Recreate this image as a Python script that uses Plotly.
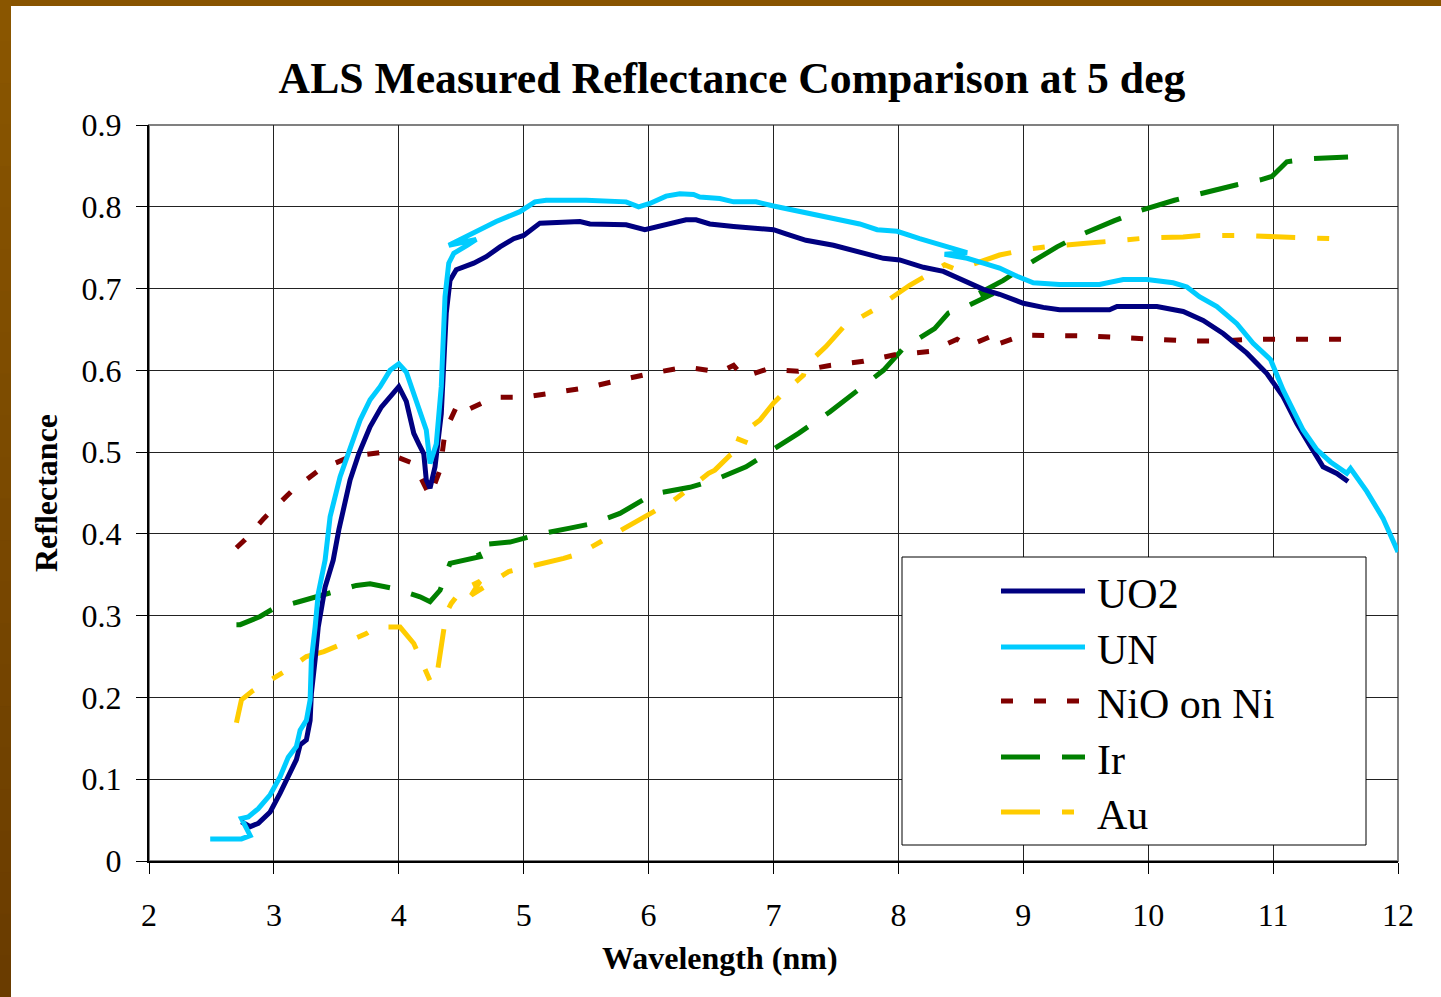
import plotly.graph_objects as go

# ---------------- data ----------------
uo2_x = [2.74, 2.81, 2.875, 2.97, 3.05, 3.13, 3.18, 3.21, 3.26, 3.29, 3.30, 3.33, 3.355, 3.41, 3.475,
         3.52, 3.61, 3.68, 3.77, 3.86, 3.93, 4.0, 4.06, 4.12, 4.16, 4.20, 4.22, 4.25, 4.29, 4.34,
         4.38, 4.41, 4.46, 4.60, 4.70, 4.81, 4.92, 5.0, 5.13, 5.32, 5.45, 5.53, 5.72, 5.82, 5.97,
         6.14, 6.30, 6.38, 6.49, 6.68, 6.81, 7.0, 7.10, 7.26, 7.48, 7.69, 7.88, 8.01, 8.20, 8.36,
         8.49, 8.68, 8.81, 9.0, 9.16, 9.29, 9.69, 9.75, 10.07, 10.28, 10.44, 10.60, 10.79, 10.95,
         11.08, 11.19, 11.30, 11.40, 11.51, 11.60]
uo2_y = [0.048, 0.042, 0.046, 0.06, 0.083, 0.109, 0.124, 0.142, 0.148, 0.172, 0.205, 0.246, 0.286, 0.335, 0.368,
         0.405, 0.466, 0.498, 0.531, 0.555, 0.568, 0.58, 0.562, 0.523, 0.51, 0.498, 0.466, 0.456, 0.482, 0.547,
         0.67, 0.71, 0.723, 0.731, 0.739, 0.751, 0.761, 0.765, 0.78, 0.782, 0.782, 0.779, 0.779, 0.778, 0.772,
         0.778, 0.784, 0.784, 0.779, 0.776, 0.774, 0.772, 0.767, 0.759, 0.753, 0.745, 0.737, 0.735, 0.726, 0.721,
         0.712, 0.699, 0.693, 0.682, 0.677, 0.674, 0.674, 0.678, 0.678, 0.672, 0.661, 0.645, 0.621, 0.596,
         0.568, 0.535, 0.507, 0.482, 0.474, 0.464]

un_x = [2.49, 2.74, 2.81, 2.74, 2.795, 2.875, 2.97, 3.05, 3.115, 3.18, 3.21, 3.26, 3.29, 3.30, 3.33, 3.355,
        3.41, 3.45, 3.53, 3.61, 3.69, 3.77, 3.85, 3.93, 4.0, 4.06, 4.13, 4.18, 4.22, 4.25, 4.30, 4.34,
        4.37, 4.40, 4.44, 4.55, 4.62, 4.40, 4.52, 4.65, 4.78, 4.97, 5.09, 5.18, 5.5, 5.82, 5.92, 6.01,
        6.14, 6.25, 6.36, 6.41, 6.57, 6.68, 6.86, 7.0, 7.10, 7.26, 7.48, 7.69, 7.83, 7.99, 8.17, 8.39,
        8.55, 8.37, 8.55, 8.68, 8.81, 8.95, 9.08, 9.29, 9.61, 9.80, 9.99, 10.20, 10.31, 10.41, 10.55,
        10.71, 10.84, 10.98, 11.08, 11.24, 11.35, 11.46, 11.54, 11.59, 11.62, 11.75, 11.88, 12.0]
un_y = [0.027, 0.027, 0.031, 0.052, 0.054, 0.064, 0.081, 0.103, 0.127, 0.14, 0.16, 0.172, 0.197, 0.246, 0.286, 0.327,
        0.368, 0.421, 0.47, 0.503, 0.539, 0.564, 0.58, 0.60, 0.608, 0.598, 0.565, 0.543, 0.527, 0.486, 0.51, 0.58,
        0.69, 0.731, 0.743, 0.753, 0.760, 0.753, 0.762, 0.772, 0.782, 0.794, 0.806, 0.808, 0.808, 0.806, 0.80, 0.804,
        0.813, 0.816, 0.815, 0.812, 0.81, 0.806, 0.806, 0.801, 0.798, 0.793, 0.786, 0.779, 0.772, 0.77, 0.761, 0.751,
        0.744, 0.742, 0.737, 0.731, 0.725, 0.715, 0.707, 0.705, 0.705, 0.711, 0.711, 0.707, 0.702, 0.69, 0.678,
        0.657, 0.633, 0.613, 0.576, 0.527, 0.503, 0.488, 0.48, 0.474, 0.48, 0.452, 0.419, 0.378]

nio_x = [2.70, 2.77, 2.92, 3.14, 3.36, 3.62, 3.88, 4.12, 4.25, 4.33, 4.37, 4.46, 4.54, 4.57, 4.76, 5.0,
         5.26, 5.51, 5.77, 6.04, 6.30, 6.57, 6.68, 6.76, 6.94, 7.20, 7.45, 7.72, 7.97, 8.25, 8.47, 8.56,
         8.75, 8.76, 9.0, 9.27, 9.53, 9.79, 10.05, 10.32, 10.57, 10.84, 11.11, 11.38, 11.60]
nio_y = [0.383, 0.393, 0.419, 0.452, 0.478, 0.495, 0.50, 0.486, 0.446, 0.478, 0.525, 0.555, 0.561, 0.553, 0.567, 0.567,
         0.573, 0.579, 0.588, 0.597, 0.604, 0.598, 0.606, 0.592, 0.601, 0.599, 0.606, 0.611, 0.619, 0.623, 0.638, 0.630,
         0.642, 0.630, 0.643, 0.643, 0.642, 0.640, 0.638, 0.636, 0.636, 0.638, 0.638, 0.638, 0.638]

ir_x = [2.70, 2.73, 2.89, 3.0, 3.2, 3.475, 3.66, 3.77, 3.97, 4.17, 4.25, 4.33, 4.36, 4.41, 4.65, 4.61,
        4.89, 5.13, 5.37, 5.56, 5.77, 5.86, 6.04, 6.33, 6.53, 6.78, 7.0, 7.20, 7.45, 7.64, 7.88, 8.04,
        8.29, 8.40, 8.57, 8.76, 8.57, 8.84, 9.01, 9.27, 9.45, 9.73, 9.93, 10.21, 10.41, 10.71, 10.90,
        10.99, 11.11, 11.30, 11.60]
ir_y = [0.289, 0.289, 0.299, 0.309, 0.317, 0.329, 0.337, 0.339, 0.333, 0.323, 0.317, 0.331, 0.342, 0.364, 0.372, 0.386,
        0.390, 0.40, 0.407, 0.413, 0.425, 0.433, 0.449, 0.457, 0.466, 0.482, 0.503, 0.523, 0.549, 0.572, 0.60, 0.627,
        0.651, 0.67, 0.68, 0.694, 0.688, 0.71, 0.727, 0.751, 0.765, 0.783, 0.795, 0.808, 0.816, 0.827, 0.833,
        0.837, 0.855, 0.859, 0.861]

au_x = [2.70, 2.74, 2.83, 3.02, 3.10, 3.26, 3.40, 3.54, 3.74, 3.82, 4.01, 4.12, 4.18, 4.26, 4.30, 4.33,
        4.38, 4.42, 4.50, 4.65, 4.58, 4.88, 5.08, 5.32, 5.45, 5.61, 5.82, 5.89, 6.06, 6.20, 6.33, 6.48,
        6.53, 6.65, 6.80, 6.70, 6.89, 7.0, 7.09, 7.24, 7.26, 7.42, 7.56, 7.65, 7.85, 7.92, 8.09, 8.25,
        8.37, 8.47, 8.65, 8.81, 9.03, 9.24, 9.48, 9.75, 10.0, 10.28, 10.41, 10.71, 11.08, 11.27, 11.46, 11.52]
au_y = [0.169, 0.197, 0.208, 0.225, 0.233, 0.25, 0.256, 0.265, 0.278, 0.286, 0.286, 0.266, 0.244, 0.217, 0.222, 0.256,
        0.303, 0.315, 0.331, 0.342, 0.325, 0.354, 0.361, 0.37, 0.376, 0.39, 0.407, 0.413, 0.429, 0.441, 0.456, 0.474,
        0.478, 0.496, 0.511, 0.517, 0.539, 0.56, 0.574, 0.594, 0.606, 0.629, 0.653, 0.661, 0.678, 0.686, 0.704, 0.718,
        0.729, 0.723, 0.733, 0.741, 0.748, 0.752, 0.755, 0.758, 0.762, 0.763, 0.765, 0.765, 0.763, 0.763, 0.761, 0.759]

series_names = ["UO2", "UN", "NiO on Ni", "Ir", "Au"]
x_ticks = [2, 3, 4, 5, 6, 7, 8, 9, 10, 11, 12]
y_ticks = [0, 0.1, 0.2, 0.3, 0.4, 0.5, 0.6, 0.7, 0.8, 0.9]
y_ticktext = ["0", "0.1", "0.2", "0.3", "0.4", "0.5", "0.6", "0.7", "0.8", "0.9"]

# ---------------- styles ----------------
FONT = "Liberation Serif, Times New Roman, serif"
styles = [
    dict(color="#000080", width=5, dash="solid"),
    dict(color="#00CCFF", width=5, dash="solid"),
    dict(color="#800000", width=5, dash="12px,21px"),
    dict(color="#008000", width=5, dash="39px,22px"),
    dict(color="#FFCC00", width=5, dash="39px,22px,12px,22px"),
]
data = [(uo2_x, uo2_y), (un_x, un_y), (nio_x, nio_y), (ir_x, ir_y), (au_x, au_y)]

W, H = 1441, 997
L, R, T, B = 149, 1398, 125, 861  # plot area in pixels


def px(xp):
    return (xp - L) / (R - L)


def py(yp):
    return (B - yp) / (B - T)


fig = go.Figure()
draw_order = [4, 3, 2, 0, 1]
for i in draw_order:
    xs, ys = data[i]
    fig.add_trace(go.Scatter(x=xs, y=ys, mode="lines", name=series_names[i],
                             line=dict(color=styles[i]["color"], width=styles[i]["width"],
                                       dash=styles[i]["dash"]),
                             showlegend=False))

shapes = []
# frame of the plot area (gray top/right)
shapes.append(dict(type="rect", xref="paper", yref="paper", x0=0, x1=1, y0=0, y1=1,
                   line=dict(color="#808080", width=2), layer="below"))
# brown slide border: top bar and left gradient bar
shapes.append(dict(type="rect", xref="paper", yref="paper", x0=px(0), x1=px(W), y0=py(6), y1=py(0),
                   fillcolor="#885400", line=dict(width=0), layer="above"))
nb = 24
c0 = (0x8A, 0x56, 0x00)
c1 = (0x6A, 0x3C, 0x00)
for k in range(nb):
    t = k / (nb - 1)
    col = "rgb(%d,%d,%d)" % tuple(round(c0[j] + (c1[j] - c0[j]) * t) for j in range(3))
    shapes.append(dict(type="rect", xref="paper", yref="paper", x0=px(0), x1=px(11),
                       y0=py(H * (k + 1) / nb + 1), y1=py(H * k / nb),
                       fillcolor=col, line=dict(width=0), layer="above"))

# legend box (drawn manually to match the long Excel legend keys)
LB = dict(x0=902, x1=1366, y0=557, y1=845)
shapes.append(dict(type="rect", xref="paper", yref="paper", x0=px(LB["x0"]), x1=px(LB["x1"]),
                   y0=py(LB["y1"]), y1=py(LB["y0"]), fillcolor="white",
                   line=dict(color="black", width=1), layer="above"))
legend_rows = [591, 647, 701, 757, 812]
annotations = []
for i, yrow in enumerate(legend_rows):
    shapes.append(dict(type="line", xref="paper", yref="paper", x0=px(1001), x1=px(1085),
                       y0=py(yrow), y1=py(yrow),
                       line=dict(color=styles[i]["color"], width=5, dash=styles[i]["dash"]),
                       layer="above"))
    annotations.append(dict(xref="paper", yref="paper", x=px(1095), y=py(yrow + 3),
                            xanchor="left", yanchor="middle", showarrow=False,
                            text=series_names[i], font=dict(family=FONT, size=42, color="black")))

# x-axis title
annotations.append(dict(xref="paper", yref="paper", x=px(720), y=py(958), xanchor="center",
                        yanchor="middle", showarrow=False, text="<b>Wavelength (nm)</b>",
                        font=dict(family=FONT, size=32, color="black")))

fig.update_layout(
    width=W, height=H,
    margin=dict(l=L, r=W - R, t=T, b=H - B, autoexpand=False),
    paper_bgcolor="white", plot_bgcolor="white",
    title=dict(text="<b>ALS Measured Reflectance Comparison at 5 deg</b>",
               x=732 / W, xanchor="center", y=1 - 78 / H, yanchor="middle",
               font=dict(family=FONT, size=43.7, color="black")),
    font=dict(family=FONT, size=32, color="black"),
    shapes=shapes, annotations=annotations,
    showlegend=False,
)
fig.update_xaxes(range=[2, 12], tickvals=x_ticks, ticktext=[str(v) for v in x_ticks],
                 showgrid=True, gridcolor="#222222", gridwidth=1,
                 showline=True, linecolor="black", linewidth=2,
                 ticks="outside", ticklen=11, tickcolor="black", tickwidth=1,
                 tickfont=dict(family=FONT, size=32, color="black"),
                 zeroline=False, automargin=False, ticklabelstandoff=14)
fig.update_yaxes(range=[0, 0.9], tickvals=y_ticks, ticktext=y_ticktext,
                 showgrid=True, gridcolor="#222222", gridwidth=1,
                 showline=True, linecolor="black", linewidth=2,
                 ticks="outside", ticklen=11, tickcolor="black", tickwidth=1,
                 tickfont=dict(family=FONT, size=32, color="black"),
                 zeroline=False, automargin=False, ticklabelstandoff=8,
                 title=dict(text="<b>Reflectance</b>", font=dict(family=FONT, size=32, color="black"),
                            standoff=14))

fig.write_html("out.html", config={"displayModeBar": False},
               post_script="document.body.style.margin='0';document.body.style.overflow='hidden';")
